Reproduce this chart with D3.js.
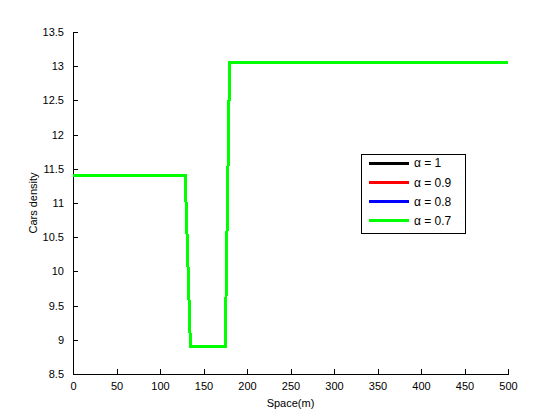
<!DOCTYPE html>
<html>
<head>
  <meta charset="UTF-8">
  <title>Cars density</title>
  <script src="https://d3js.org/d3.v7.min.js"></script>
  <style>
    body { margin: 0; background: #fff; }
    svg { display: block; font-family: "Liberation Sans", Arial, sans-serif; }
    .axis path, .axis line { stroke: #000; shape-rendering: crispEdges; }
    .axis text { font-size: 11px; fill: #000; }
    .label { font-size: 11px; fill: #000; }
    .legend text { font-size: 12px; }
    .series, .legend line { shape-rendering: crispEdges; }
  </style>
</head>
<body>
  <svg width="560" height="420"></svg>
  <script>
    // density profile along the road, all four alpha runs overlap
    const space = [0, 129, 135, 175, 180, 500];
    const alpha1 = [11.4, 11.4, 8.9, 8.9, 13.05, 13.05];
    const alpha09 = [11.4, 11.4, 8.9, 8.9, 13.05, 13.05];
    const alpha08 = [11.4, 11.4, 8.9, 8.9, 13.05, 13.05];
    const alpha07 = [11.4, 11.4, 8.9, 8.9, 13.05, 13.05];
    const seriesNames = ["\u03b1 = 1", "\u03b1 = 0.9", "\u03b1 = 0.8", "\u03b1 = 0.7"];
    const seriesColors = ["#000000", "#ff0000", "#0000ff", "#00ff00"];
    const xTicks = [0, 50, 100, 150, 200, 250, 300, 350, 400, 450, 500];
    const yTicks = [8.5, 9, 9.5, 10, 10.5, 11, 11.5, 12, 12.5, 13, 13.5];

    const series = [alpha1, alpha09, alpha08, alpha07].map((vals, i) => ({
      name: seriesNames[i],
      color: seriesColors[i],
      points: space.map((s, j) => ({ x: s, y: vals[j] }))
    }));

    const svg = d3.select("svg");
    const margin = { left: 73, right: 52, top: 32, bottom: 46 };
    const width = 560 - margin.left - margin.right;
    const height = 420 - margin.top - margin.bottom;

    const x = d3.scaleLinear().domain([0, 500]).range([0, width]);
    const y = d3.scaleLinear().domain([8.5, 13.5]).range([height, 0]);

    const g = svg.append("g")
      .attr("transform", `translate(${margin.left},${margin.top})`);

    g.append("g")
      .attr("class", "axis")
      .attr("transform", `translate(0,${height})`)
      .call(d3.axisBottom(x).tickValues(xTicks).tickSizeInner(-5).tickSizeOuter(0).tickPadding(8).tickFormat(d3.format("d")));

    g.append("g")
      .attr("class", "axis")
      .call(d3.axisLeft(y).tickValues(yTicks).tickSizeInner(-5).tickSizeOuter(0).tickPadding(9).tickFormat(d => String(d)));

    const line = d3.line().x(d => x(d.x)).y(d => y(d.y));

    g.selectAll(".series")
      .data(series)
      .enter()
      .append("path")
      .attr("class", "series")
      .attr("fill", "none")
      .attr("stroke", d => d.color)
      .attr("stroke-width", 3)
      .attr("d", d => line(d.points));

    svg.append("text")
      .attr("class", "label")
      .attr("x", margin.left + width / 2)
      .attr("y", 407)
      .attr("text-anchor", "middle")
      .text("Space(m)");

    svg.append("text")
      .attr("class", "label")
      .attr("transform", `translate(37,${margin.top + height / 2}) rotate(-90)`)
      .attr("text-anchor", "middle")
      .text("Cars density");

    const legend = svg.append("g")
      .attr("class", "legend")
      .attr("transform", "translate(361,154)");

    legend.append("rect")
      .attr("width", 104)
      .attr("height", 79)
      .attr("fill", "#fff")
      .attr("stroke", "#000")
      .attr("shape-rendering", "crispEdges");

    const items = legend.selectAll(".item")
      .data(series)
      .enter()
      .append("g")
      .attr("class", "item")
      .attr("transform", (d, i) => `translate(0,${9 + i * 19.3})`);

    items.append("line")
      .attr("x1", 8)
      .attr("x2", 48)
      .attr("stroke", d => d.color)
      .attr("stroke-width", 3);

    items.append("text")
      .attr("x", 53)
      .attr("dy", "0.35em")
      .text(d => d.name);
  </script>
</body>
</html>
